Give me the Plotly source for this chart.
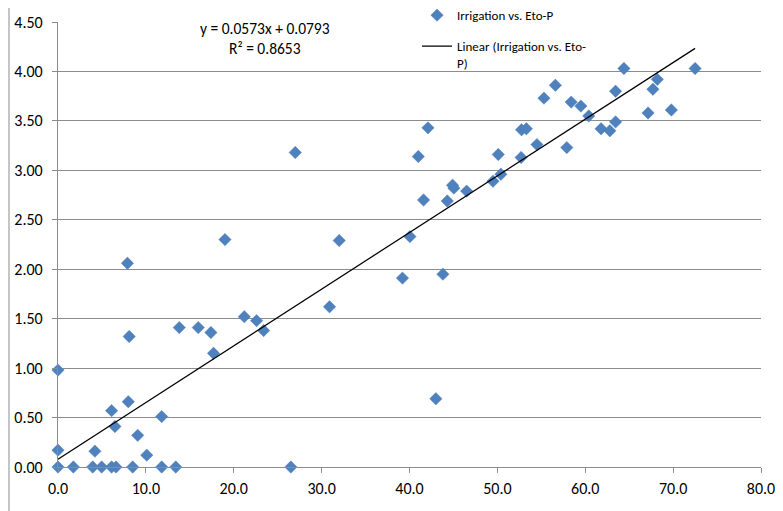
import plotly.graph_objects as go

# Irrigation vs. Eto-P
eto_p = [0.0, 1.75, 3.95, 4.97, 6.1, 6.6, 8.5, 11.8, 13.4,
         0.0, 4.2, 10.1, 9.07, 6.48, 6.1, 8.0, 11.8,
         7.9, 8.1, 0.0, 13.8, 15.96, 17.4, 17.7, 21.2, 19.0, 22.6, 23.4,
         26.5, 30.9, 39.2, 43.8, 43.0, 27.0, 32.0, 42.1, 41.0, 41.6, 40.05,
         44.3, 44.9, 45.05, 46.5, 49.5, 50.4, 50.1, 52.7, 52.75, 53.3, 54.5,
         55.3, 56.6, 57.9, 58.4, 59.5, 60.4, 61.8, 62.8, 63.45, 63.45,
         64.4, 72.5, 68.2, 67.7, 67.15, 69.8]
irrigation = [0.0, 0.0, 0.0, 0.0, 0.0, 0.0, 0.0, 0.0, 0.0,
              0.17, 0.16, 0.12, 0.32, 0.41, 0.57, 0.66, 0.51,
              2.06, 1.32, 0.98, 1.41, 1.41, 1.36, 1.15, 1.52, 2.30, 1.48, 1.38,
              0.0, 1.62, 1.91, 1.95, 0.69, 3.18, 2.29, 3.43, 3.14, 2.70, 2.33,
              2.69, 2.85, 2.82, 2.79, 2.89, 2.96, 3.16, 3.13, 3.41, 3.42, 3.26,
              3.73, 3.86, 3.23, 3.69, 3.65, 3.55, 3.42, 3.40, 3.49, 3.80,
              4.03, 4.03, 3.92, 3.82, 3.58, 3.61]

# Linear trendline parameters (shown on the chart)
slope = 0.0573
intercept = 0.0793
r_squared = 0.8653

series_name = "Irrigation vs. Eto-P"
trend_name = "Linear (Irrigation vs. Eto-<br>P)"

FONT = "Carlito, Calibri, Lato, sans-serif"
BLUE = "#4F81BD"
GRID = "#8c8c8c"

trend_x = [min(eto_p), max(eto_p)]
trend_y = [slope * v + intercept for v in trend_x]

fig = go.Figure()
fig.add_trace(go.Scatter(
    x=eto_p, y=irrigation, mode="markers", name=series_name,
    legendgroup="a",
    marker=dict(symbol="diamond", size=9.5, color=BLUE,
                line=dict(width=0.5, color=BLUE)),
    cliponaxis=False,
))
fig.add_trace(go.Scatter(
    x=trend_x, y=trend_y, mode="lines", name=trend_name,
    legendgroup="b",
    line=dict(color="black", width=1.25),
    cliponaxis=False,
))

fig.update_layout(
    width=775, height=503,
    margin=dict(l=50, r=22, t=14, b=44, autoexpand=False),
    paper_bgcolor="white", plot_bgcolor="white",
    font=dict(family=FONT, color="black", size=15),
    showlegend=True,
    legend=dict(x=0.5107, y=1.049, xanchor="left", yanchor="top",
                bgcolor="rgba(0,0,0,0)", font=dict(size=13, family=FONT),
                valign="top", tracegroupgap=11, traceorder="grouped"),
    xaxis=dict(range=[0, 80], dtick=10, tick0=0, tickformat=".1f",
               showgrid=False, zeroline=False, automargin=False,
               showline=True, linecolor=GRID, linewidth=1.3,
               ticks="outside", ticklen=5, tickcolor=GRID,
               ticklabelstandoff=2,
               tickfont=dict(size=16, family=FONT)),
    yaxis=dict(range=[0, 4.5], dtick=0.5, tick0=0, tickformat=".2f",
               showgrid=True, gridcolor=GRID, gridwidth=1.3,
               zeroline=False, automargin=False,
               showline=True, linecolor=GRID, linewidth=1.3,
               ticks="outside", ticklen=5, tickcolor=GRID,
               ticklabelstandoff=6,
               tickfont=dict(size=16, family=FONT)),
    annotations=[dict(
        xref="paper", yref="paper", x=0.2945, y=0.962,
        xanchor="center", yanchor="middle", align="center",
        text=f"y = {slope}x + {intercept}<br>R² = {r_squared}",
        showarrow=False, font=dict(size=15.5, family=FONT, color="black"),
    )],
    shapes=[dict(type="line", xref="paper", yref="paper",
                 x0=-0.0697, x1=-0.0697, y0=-0.2, y1=1.1,
                 line=dict(color="#a6a6a6", width=1.3))],
)

fig.write_html("out.html")
